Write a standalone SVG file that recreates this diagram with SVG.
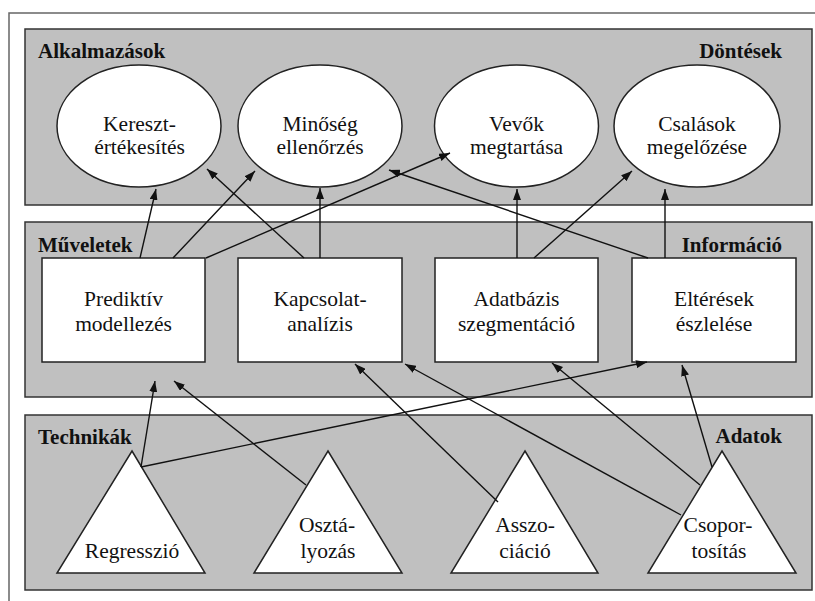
<svg xmlns="http://www.w3.org/2000/svg" width="815" height="601" viewBox="0 0 815 601">
<style>
.panel{fill:#c0c0c0;stroke:#333;stroke-width:1.5}
.node{fill:#fff;stroke:#222;stroke-width:1.5}
.t{font-family:'Liberation Serif','Times New Roman',Tinos,'DejaVu Serif',serif;font-size:21.5px;fill:#111;text-anchor:middle}
.lbl{font-family:'Liberation Serif','Times New Roman',Tinos,'DejaVu Serif',serif;font-size:21px;font-weight:bold;fill:#111}
.c{stroke:#111;stroke-width:1.4;fill:none;marker-end:url(#ah)}
</style>
<defs>
<marker id="ah" markerWidth="11" markerHeight="8" refX="11" refY="4" orient="auto" markerUnits="userSpaceOnUse">
<path d="M0,0 L11,4 L0,8 z" fill="#111"/>
</marker>
</defs>
<rect x="0" y="0" width="815" height="601" fill="#fff"/>
<rect x="9" y="13" width="830" height="620" fill="none" stroke="#666" stroke-width="1.5"/>
<g id="panels">
<rect class="panel" x="25" y="29" width="787" height="176"/>
<rect class="panel" x="25" y="222" width="787" height="175"/>
<rect class="panel" x="25" y="415" width="787" height="175"/>
<text class="lbl" x="38" y="58">Alkalmazások</text>
<text class="lbl" x="782" y="58" text-anchor="end">Döntések</text>
<text class="lbl" x="38" y="252">Műveletek</text>
<text class="lbl" x="782" y="252" text-anchor="end">Információ</text>
<text class="lbl" x="38" y="444">Technikák</text>
<text class="lbl" x="782" y="443" text-anchor="end">Adatok</text>
</g>
<g id="n-kereszt"><ellipse class="node" cx="139" cy="126" rx="82" ry="61"/><text class="t" x="139.5" y="131">Kereszt-</text><text class="t" x="139.5" y="154">értékesítés</text></g>
<g id="n-minoseg"><ellipse class="node" cx="320" cy="126" rx="82" ry="61"/><text class="t" x="320" y="131">Minőség</text><text class="t" x="320" y="154">ellenőrzés</text></g>
<g id="n-vevok"><ellipse class="node" cx="516.5" cy="126" rx="82" ry="61"/><text class="t" x="516.5" y="131">Vevők</text><text class="t" x="516.5" y="154">megtartása</text></g>
<g id="n-csalasok"><ellipse class="node" cx="697" cy="126" rx="83" ry="61"/><text class="t" x="697" y="131">Csalások</text><text class="t" x="697" y="154">megelőzése</text></g>
<g id="n-prediktiv"><rect class="node" x="42" y="258" width="163" height="104"/><text class="t" x="123.5" y="306">Prediktív</text><text class="t" x="123.5" y="331">modellezés</text></g>
<g id="n-kapcsolat"><rect class="node" x="238" y="258" width="164" height="104"/><text class="t" x="320" y="306">Kapcsolat-</text><text class="t" x="320" y="331">analízis</text></g>
<g id="n-adatbazis"><rect class="node" x="435" y="258" width="163" height="104"/><text class="t" x="516.5" y="306">Adatbázis</text><text class="t" x="516.5" y="331">szegmentáció</text></g>
<g id="n-elteresek"><rect class="node" x="632" y="258" width="164" height="104"/><text class="t" x="714" y="306">Eltérések</text><text class="t" x="714" y="331">észlelése</text></g>
<g id="n-regresszio"><polygon class="node" points="132,451 205,573 57,573"/><text class="t" x="132" y="558">Regresszió</text></g>
<g id="n-osztalyozas"><polygon class="node" points="328,451 402,573 254,573"/><text class="t" x="327" y="532">Osztá-</text><text class="t" x="328" y="558">lyozás</text></g>
<g id="n-asszociacio"><polygon class="node" points="525,451 598,573 451,573"/><text class="t" x="525" y="532">Asszo-</text><text class="t" x="525" y="558">ciáció</text></g>
<g id="n-csoportositas"><polygon class="node" points="722,451 796,573 648,573"/><text class="t" x="718" y="532">Csopor-</text><text class="t" x="719" y="558">tosítás</text></g>
<g id="connectors">
<line class="c" x1="140" y1="258" x2="156" y2="189"/>
<line class="c" x1="173" y1="258" x2="255" y2="171"/>
<line class="c" x1="206" y1="258" x2="450" y2="153"/>
<line class="c" x1="304" y1="258" x2="207" y2="169"/>
<line class="c" x1="320" y1="258" x2="320" y2="188"/>
<line class="c" x1="517" y1="258" x2="517" y2="189"/>
<line class="c" x1="534" y1="258" x2="632" y2="171"/>
<line class="c" x1="665" y1="258" x2="665" y2="189"/>
<line class="c" x1="648" y1="258" x2="389" y2="170"/>
<line class="c" x1="141" y1="467" x2="155" y2="381"/>
<line class="c" x1="306" y1="485" x2="174" y2="381"/>
<line class="c" x1="141" y1="467" x2="647" y2="362"/>
<line class="c" x1="498" y1="502" x2="355" y2="364"/>
<line class="c" x1="681" y1="515" x2="405" y2="364"/>
<line class="c" x1="700" y1="485" x2="552" y2="363"/>
<line class="c" x1="712" y1="467" x2="682" y2="365"/>
</g>
</svg>
